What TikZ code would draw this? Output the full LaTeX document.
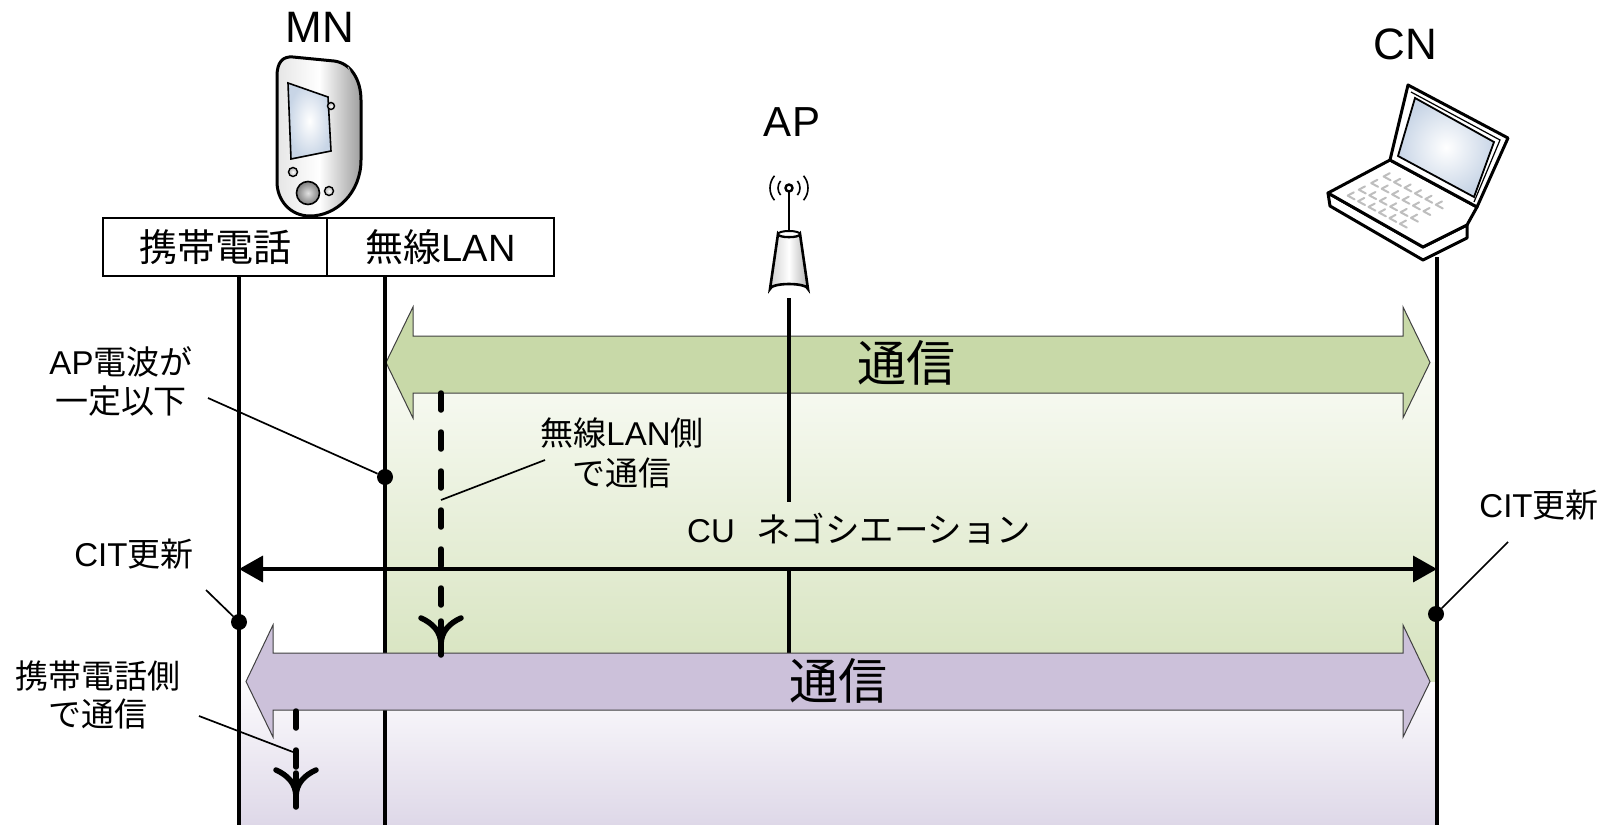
\documentclass[tikz,border=0pt]{standalone}
\usepackage{fontspec}
\setmainfont{Liberation Sans}
\newfontfamily\jpfont{Noto Sans CJK JP}
\usetikzlibrary{calc,arrows.meta}

\definecolor{greenarrow}{RGB}{200,217,168}
\definecolor{greentop}{RGB}{249,251,245}
\definecolor{greenbot}{RGB}{214,227,190}
\definecolor{purplearrow}{RGB}{204,193,218}
\definecolor{purpletop}{RGB}{252,251,253}
\definecolor{purplebot}{RGB}{222,216,232}
\definecolor{screenblue}{RGB}{200,213,230}
\definecolor{keygray}{RGB}{190,190,190}

\begin{document}
\begin{tikzpicture}[x=1pt,y=-1pt,
  lifeline/.style={line width=4pt},
  apline/.style={line width=3.2pt},
  leader/.style={line width=1.7pt},
  dotmark/.style={circle, fill=black, inner sep=0pt, minimum size=16pt},
  lbl/.style={font=\fontsize{33}{39}\selectfont, align=center, inner sep=0pt},
  title/.style={font=\fontsize{44}{50}\selectfont, inner sep=0pt},
  boxlbl/.style={draw, line width=1.3pt, minimum height=58pt, inner sep=0pt,
                 font=\fontsize{38}{44}\selectfont},
  bigarrow/.style={draw=black!75, line width=1pt},
  arrowtext/.style={font=\fontsize{49}{55}\selectfont\jpfont, inner sep=0pt},
  dashmsg/.style={line width=5.5pt, dash pattern=on 17pt off 22pt, line cap=round},
  yhead/.style={line width=5.5pt, line cap=round, line join=round},
  ydown/.pic={
    \draw[yhead] (0,-34) -- (0,0);
    \draw[yhead] (-20,-37) .. controls (-9,-32) and (0,-24) .. (0,-10);
    \draw[yhead] (20,-37) .. controls (9,-32) and (0,-24) .. (0,-10);
  },
]
\useasboundingbox (0,0) rectangle (1618,825);

% ---------- shaded phases ----------
\shade[top color=greentop, bottom color=greenbot] (385,362) rectangle (1436,682);
\shade[top color=purpletop, bottom color=purplebot] (239,682) rectangle (1436,825);

% ---------- titles ----------
\node[title] (mn) at (320,27) {MN};
\node[title] (cn) at (1405,44) {CN};
\node[title, font=\fontsize{42}{48}\selectfont] (ap) at (792,122) {AP};

% ---------- mobile node (PDA) ----------
\shade[left color=black!10, right color=black!38, middle color=white, line width=3pt, draw=black]
  (277,76) .. controls (277,62) and (283,56) .. (293,57) -- (334,61)
  .. controls (351,63) and (361,80) .. (361,100) -- (361,160)
  .. controls (361,193) and (336,216) .. (310,216)
  .. controls (290,216) and (277,200) .. (277,182) -- cycle;
\draw[black!30, line width=1pt] (348,67) .. controls (353,76) and (353,90) .. (353,100) -- (353,165);
\shade[inner color=white, outer color=screenblue, draw=black, line width=1.6pt]
  (288,83) -- (328,97) -- (331,151) -- (291,159) -- cycle;
\shade[inner color=white, outer color=black!30, draw=black, line width=1.4pt] (331,106) circle (3.5);
\shade[inner color=white, outer color=black!30, draw=black, line width=1.4pt] (293,172) circle (4.5);
\shade[inner color=white, outer color=black!30, draw=black, line width=1.4pt] (329,191) circle (4.5);
\shade[inner color=black!12, outer color=black!50, draw=black, line width=1.6pt] (308,193) circle (11.5);

% ---------- access point ----------
\foreach \r in {11,19} {
  \draw[line width=1.6pt] (789,188) ++(140:\r) arc (140:220:\r);
  \draw[line width=1.6pt] (789,188) ++(40:\r) arc (40:-40:\r);
}
\draw[line width=2.6pt] (789,192) -- (789,233);
\draw[line width=2.4pt, fill=white] (789,188) circle (3.5);
\shade[left color=black!18, right color=black!30, middle color=white, draw=black, line width=2.6pt]
  (778,234) -- (770,289) arc (180:360:19 and 5) -- (800,234) arc (0:180:11 and 3) -- cycle;
\draw[line width=2pt, fill=white] (789,234) ellipse (11 and 3);

% ---------- correspondent node (laptop) ----------
\coordinate (lapO) at (1390,160);
\coordinate (lapU) at (87,47);
\coordinate (lapV) at (-62,33);
\draw[line width=3pt, fill=white, line join=round]
  (1328,193) -- (1330,206) -- (1423,260) -- (1467,238) -- (1467,225) -- (1423,247) -- cycle;
\draw[line width=3pt, fill=white, line join=round]
  (1390,160) -- (1328,193) -- (1423,247) -- (1467,225) -- (1477,207) -- cycle;
\foreach \a in {0.14,0.26,0.38,0.50,0.62,0.74} {
  \foreach \b in {0.30,0.50,0.70,0.88} {
    \draw[keygray, line width=2pt, line cap=round]
      ($(lapO)+\a*(lapU)+\b*(lapV)$) -- ++($-0.10*(lapV)$)
      ($(lapO)+\a*(lapU)+\b*(lapV)$) -- ++($0.08*(lapU)$);
  }
}
\draw[line width=3pt, fill=white, line join=round]
  (1408,85) -- (1508,138) -- (1477,207) -- (1390,160) -- cycle;
\draw[line width=1.2pt] (1411,92) -- (1500,140) -- (1474,202);
\shade[inner color=white, outer color=screenblue, draw=black, line width=1.8pt]
  (1415,98) -- (1494,142) -- (1474,197) -- (1398,156) -- cycle;

% ---------- interface boxes ----------
\node[boxlbl, minimum width=224pt] (bphone) at (215,247) {\jpfont 携帯電話};
\node[boxlbl, minimum width=227pt] (bwlan) at (440.5,247) {{\jpfont 無線}LAN};

% ---------- first phase arrow ----------
\path[bigarrow, fill=greenarrow]
  (386,362.5) -- (413,307) -- (413,336) -- (1403,336) -- (1403,307) -- (1430,362.5)
  -- (1403,418) -- (1403,393) -- (413,393) -- (413,418) -- cycle;

% ---------- lifelines ----------
\coordinate (mnTop) at (239,276);  \coordinate (mnBot) at (239,825);
\coordinate (wlTop) at (385,276);  \coordinate (wlBot) at (385,825);
\coordinate (cnTop) at (1437,257); \coordinate (cnBot) at (1437,825);
\draw[lifeline] (mnTop) -- (mnBot);
\draw[lifeline] (wlTop) -- (wlBot);
\draw[lifeline] (cnTop) -- (cnBot);

\node[font=\fontsize{33}{39}\selectfont, inner sep=0pt, anchor=west] (cu) at (687,529)
  {CU\hspace{22pt}{\jpfont\fontsize{34.5}{39}\selectfont ネゴシエーション}};
\coordinate (apFoot) at (789,298);
\coordinate (apGap) at (789,502);
\coordinate (apResume) at (789,569);
\coordinate (apEnd) at (789,681);
\draw[apline] (apFoot) -- (apGap);
\draw[apline] (apResume) -- (apEnd);

\node[arrowtext] (t1) at (906,363) {通信};

% ---------- second phase arrow ----------
\path[bigarrow, fill=purplearrow]
  (246,681.5) -- (273,625) -- (273,653) -- (1403,653) -- (1403,625) -- (1430,681.5)
  -- (1403,737) -- (1403,710) -- (273,710) -- (273,737) -- cycle;
\node[arrowtext] (t2) at (838,681) {通信};

% ---------- CU negotiation ----------
\draw[line width=3.6pt, {Triangle[length=24pt,width=26pt]}-{Triangle[length=24pt,width=26pt]}]
  (mnTop |- 0,569) -- (cnTop |- 0,569);

% ---------- traffic paths ----------
\coordinate (w1) at (441,393);  \coordinate (w2) at (441,612);  \coordinate (w3) at (441,655);
\draw[dashmsg] (w1) -- (w2);
\pic at (w3) {ydown};
\coordinate (p1) at (296,711);  \coordinate (p2) at (296,768);  \coordinate (p3) at (296,807);
\draw[dashmsg] (p1) -- (p2);
\pic at (p3) {ydown};

% ---------- events ----------
\node[dotmark] (ev1) at (385,477) {};
\node[dotmark] (ev2) at (239,622) {};
\node[dotmark] (ev3) at (1436,614) {};

% ---------- annotations ----------
\node[lbl] (n1) at (121,381.5) {AP{\jpfont 電波が}\\{\jpfont 一定以下}};
\coordinate (n1t) at (208,398);
\draw[leader] (n1t) -- (ev1);

\node[lbl, font=\fontsize{33}{40}\selectfont] (n2) at (622,453) {{\jpfont 無線}LAN{\jpfont 側}\\{\jpfont で通信}};
\coordinate (n2t) at (545,460);
\coordinate (n2h) at (441,500);
\draw[leader] (n2t) -- (n2h);

\node[lbl] (n3) at (134,554) {CIT{\jpfont 更新}};
\coordinate (n3t) at (206,590);
\draw[leader] (n3t) -- (ev2);

\node[lbl] (n4) at (1539,505) {CIT{\jpfont 更新}};
\coordinate (n4t) at (1508,542);
\draw[leader] (n4t) -- (ev3);

\node[lbl, font=\fontsize{33}{38}\selectfont] (n5) at (98,695) {{\jpfont 携帯電話側}\\{\jpfont で通信}};
\coordinate (n5t) at (199,716);
\coordinate (n5h) at (293,752);
\draw[leader] (n5t) -- (n5h);
\end{tikzpicture}
\end{document}
